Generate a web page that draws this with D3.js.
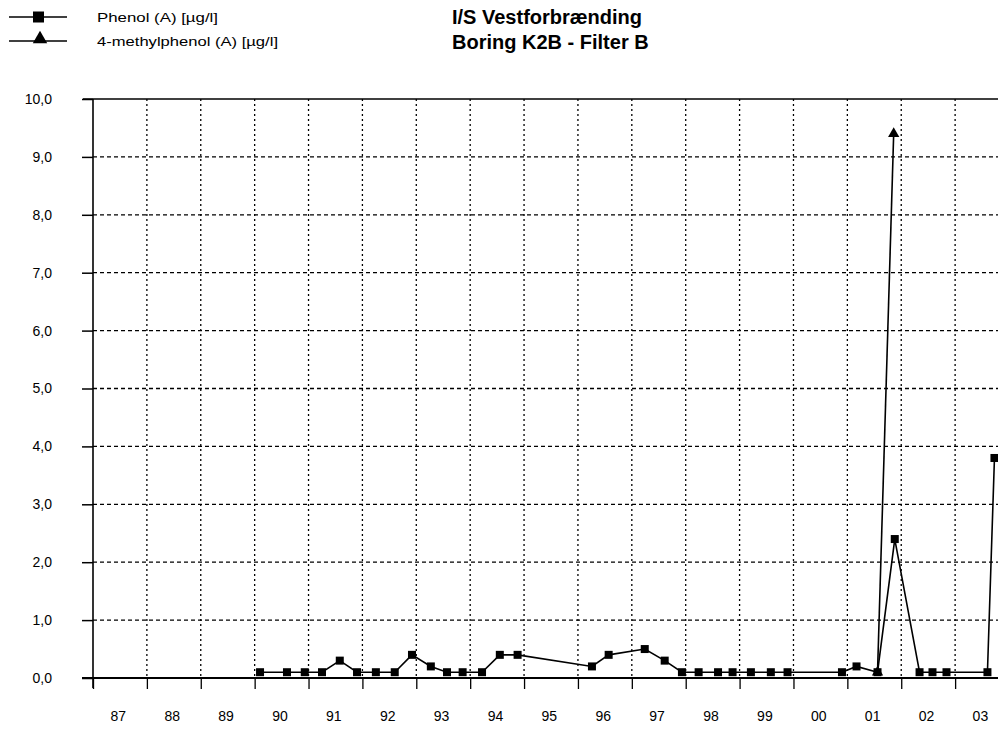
<!DOCTYPE html>
<html>
<head>
<meta charset="utf-8">
<script src="https://cdn.jsdelivr.net/npm/d3@7"></script>
<style>
  html, body { margin: 0; padding: 0; background: #fff; }
  svg { display: block; }
  text { font-family: "Liberation Sans", Arial, sans-serif; fill: #000; }
</style>
</head>
<body>
<svg id="chart" width="998" height="737"></svg>
<script>
// Sampling dates (decimal years) and concentrations in µg/l
const phenolDates = [
  1990.10, 1990.60, 1990.93, 1991.25, 1991.58, 1991.90, 1992.25, 1992.60,
  1992.92, 1993.27, 1993.57, 1993.86, 1994.22, 1994.55, 1994.88, 1996.26,
  1996.57, 1997.24, 1997.61, 1997.93, 1998.24, 1998.60, 1998.87, 1999.21,
  1999.58, 1999.89, 2000.90, 2001.17, 2001.56, 2001.88, 2002.34, 2002.58,
  2002.84, 2003.60, 2003.73
];
const phenolValues = [
  0.1, 0.1, 0.1, 0.1, 0.3, 0.1, 0.1, 0.1,
  0.4, 0.2, 0.1, 0.1, 0.1, 0.4, 0.4, 0.2,
  0.4, 0.5, 0.3, 0.1, 0.1, 0.1, 0.1, 0.1,
  0.1, 0.1, 0.1, 0.2, 0.1, 2.4, 0.1, 0.1,
  0.1, 0.1, 3.8
];
const methylDates  = [2001.56, 2001.86];
const methylValues = [0.1, 9.4];

const yTicks = [0, 1, 2, 3, 4, 5, 6, 7, 8, 9, 10];
const yearStarts = d3.range(1987, 2005);
const yearLabels = ["87","88","89","90","91","92","93","94","95","96","97","98","99","00","01","02","03"];

const legendLabels = ["Phenol (A) [µg/l]", "4-methylphenol (A) [µg/l]"];
const titleLines = ["I/S Vestforbrænding", "Boring K2B - Filter B"];

const W = 998, H = 737;
const svg = d3.select("#chart");
svg.append("rect").attr("width", W).attr("height", H).attr("fill", "#fff");

const x = d3.scaleLinear().domain([1987, 2004]).range([93, 1009]);
const y = d3.scaleLinear().domain([0, 10]).range([678, 99]);
const xRight = W;

// grid
const grid = svg.append("g");
grid.selectAll("line.h").data(yTicks.filter(v => v > 0 && v < 10)).join("line")
  .attr("x1", x(1987)).attr("x2", xRight)
  .attr("y1", d => y(d)).attr("y2", d => y(d))
  .attr("stroke", "#000").attr("stroke-width", 1.3)
  .attr("stroke-dasharray", "4,3");
grid.selectAll("line.v").data(yearStarts.filter(v => v > 1987 && x(v) < xRight)).join("line")
  .attr("x1", d => x(d)).attr("x2", d => x(d))
  .attr("y1", y(10)).attr("y2", y(0))
  .attr("stroke", "#000").attr("stroke-width", 1.3)
  .attr("stroke-dasharray", "2,3");

// top frame line
svg.append("line")
  .attr("x1", 83).attr("x2", xRight)
  .attr("y1", y(10)).attr("y2", y(10))
  .attr("stroke", "#000").attr("stroke-width", 1.6);

// y axis
const fmt = d => d3.format(".1f")(d).replace(".", ",");
const yAxis = svg.append("g")
  .attr("transform", `translate(${x(1987)},0)`)
  .call(d3.axisLeft(y).tickValues(yTicks).tickSize(11).tickPadding(30).tickFormat(fmt));
yAxis.select(".domain").remove();
yAxis.selectAll(".tick line").attr("stroke", "#000").attr("stroke-width", 1.5);
yAxis.selectAll(".tick text").attr("font-size", 14).style("font-family", "'Liberation Sans', Arial, sans-serif");
svg.append("line")
  .attr("x1", x(1987)).attr("x2", x(1987))
  .attr("y1", y(10)).attr("y2", y(0) + 10)
  .attr("stroke", "#000").attr("stroke-width", 1.6);

// x axis ticks at year boundaries
const xTicks = svg.append("g")
  .attr("transform", `translate(0,${y(0)})`)
  .call(d3.axisBottom(x).tickValues(yearStarts.filter(v => x(v) < xRight)).tickSize(11).tickFormat(""));
xTicks.select(".domain").remove();
xTicks.selectAll(".tick line").attr("stroke", "#000").attr("stroke-width", 1.3);
svg.append("line")
  .attr("x1", 82).attr("x2", xRight)
  .attr("y1", y(0)).attr("y2", y(0))
  .attr("stroke", "#000").attr("stroke-width", 2.2);

// x labels centred on each year
const xLab = svg.append("g")
  .attr("transform", `translate(0,${y(0)})`)
  .call(d3.axisBottom(x)
    .tickValues(yearLabels.map((_, i) => 1987.46 + i))
    .tickSize(0).tickPadding(33)
    .tickFormat((d, i) => yearLabels[i]));
xLab.select(".domain").remove();
xLab.selectAll(".tick text").attr("font-size", 14).style("font-family", "'Liberation Sans', Arial, sans-serif");

// series
const line = d3.line().x(d => x(d[0])).y(d => y(d[1]));
const phenol = phenolDates.map((d, i) => [d, phenolValues[i]]);
const methyl = methylDates.map((d, i) => [d, methylValues[i]]);

svg.append("path").datum(methyl).attr("d", line)
  .attr("fill", "none").attr("stroke", "#000").attr("stroke-width", 1.6);
svg.append("path").datum(phenol).attr("d", line)
  .attr("fill", "none").attr("stroke", "#000").attr("stroke-width", 1.6);

const tri = d3.symbol().type(d3.symbolTriangle).size(55);
svg.append("g").selectAll("path").data(methyl).join("path")
  .attr("d", tri)
  .attr("transform", d => `translate(${x(d[0])},${y(d[1])})`)
  .attr("fill", "#000");

const sq = 8;
svg.append("g").selectAll("rect").data(phenol).join("rect")
  .attr("x", d => x(d[0]) - sq / 2).attr("y", d => y(d[1]) - sq / 2)
  .attr("width", sq).attr("height", sq).attr("fill", "#000");

// legend
const leg = svg.append("g");
const legY = [17, 41];
legY.forEach((ly, i) => {
  leg.append("line").attr("x1", 9).attr("x2", 67).attr("y1", ly).attr("y2", ly)
    .attr("stroke", "#000").attr("stroke-width", 1.5);
  leg.append("text").attr("x", 97).attr("y", ly + 5)
    .attr("font-size", 13)
    .attr("textLength", i === 0 ? 121 : 181).attr("lengthAdjust", "spacingAndGlyphs")
    .text(legendLabels[i]);
});
leg.append("rect").attr("x", 33).attr("y", legY[0] - 5.5).attr("width", 11).attr("height", 11).attr("fill", "#000");
leg.append("path").attr("d", d3.symbol().type(d3.symbolTriangle).size(90))
  .attr("transform", `translate(40,${legY[1] - 2})`).attr("fill", "#000");

// titles
titleLines.forEach((t, i) => {
  svg.append("text").attr("x", 452).attr("y", 24 + i * 25)
    .attr("font-size", 20).attr("font-weight", "bold")
    .text(t);
});
</script>
</body>
</html>
